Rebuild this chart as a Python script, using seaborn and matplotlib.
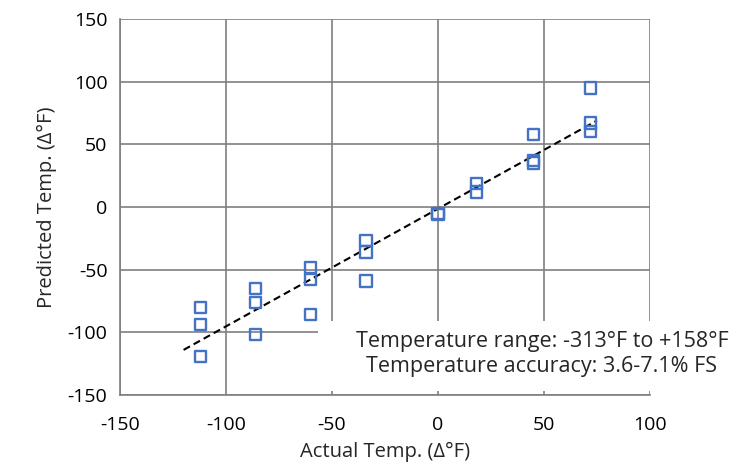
import numpy as np
import pandas as pd
import matplotlib
matplotlib.use("Agg")
import matplotlib.pyplot as plt
import seaborn as sns
from matplotlib.patches import Rectangle

actual = [-112, -112, -112, -86, -86, -86, -60, -60, -60, -34, -34, -34,
          0, 0, 18, 18, 45, 45, 45, 72, 72, 72]
predicted = [-80, -94, -119, -65, -76, -102, -48, -58, -86, -27, -36, -59,
             -5, -6, 19, 12, 58, 37, 35, 95, 67, 60]

# dashed trend line end points
trend_x = [-120, 75]
trend_y = [-114, 69]

x_ticks = [-150, -100, -50, 0, 50, 100]
y_ticks = [-150, -100, -50, 0, 50, 100, 150]

note_lines = ["Temperature range: -313°F to +158°F",
              "Temperature accuracy: 3.6-7.1% FS"]

sns.set_theme(style="white")
plt.rcParams['font.family'] = ['Open Sans', 'DejaVu Sans']
plt.rcParams['axes.unicode_minus'] = False

df = pd.DataFrame({"actual": actual, "predicted": predicted})

fig = plt.figure(figsize=(7.53, 4.69), dpi=100)
ax = fig.add_axes([120 / 753, 74 / 469, 530 / 753, 376 / 469])

grid_c = "#7f7f7f"
for v in x_ticks:
    ax.axvline(v, color=grid_c, lw=1.2, zorder=0)
for v in y_ticks:
    ax.axhline(v, color=grid_c, lw=1.2, zorder=0)

sns.lineplot(x=trend_x, y=trend_y, ax=ax, color="black", lw=1.5,
             linestyle=(0, (3.5, 2)), zorder=2)
sns.scatterplot(data=df, x="actual", y="predicted", ax=ax, marker="s",
                s=66, facecolor="none", edgecolor="#4472C4", linewidth=1.7,
                zorder=3)

ax.set_xlim(-150, 100)
ax.set_ylim(-150, 150)
ax.set_xticks(x_ticks)
ax.set_yticks(y_ticks)
ax.tick_params(axis="both", labelsize=14, colors="black", length=4,
               width=1, color=grid_c, direction="out", pad=5)
ax.tick_params(axis="x", pad=11)
for side in ["top", "right"]:
    ax.spines[side].set_visible(False)
for side in ["left", "bottom"]:
    ax.spines[side].set_color(grid_c)
    ax.spines[side].set_linewidth(1.2)

ax.set_xlabel("Actual Temp. (Δ°F)", fontsize=14.5, labelpad=6)
ax.set_ylabel("Predicted Temp. (Δ°F)", fontsize=14.5, labelpad=8)

# white note box over the lower right corner
box = Rectangle((0.3736, 0.0106), 0.9, 0.186, transform=ax.transAxes,
                facecolor="white", edgecolor="none", clip_on=False, zorder=5)
ax.add_patch(box)
ax.text(0.796, 0.143, note_lines[0], transform=ax.transAxes, ha="center",
        va="center", fontsize=15.5, zorder=6)
ax.text(0.796, 0.077, note_lines[1], transform=ax.transAxes, ha="center",
        va="center", fontsize=15.5, zorder=6)

fig.savefig("out.png", dpi=100)
